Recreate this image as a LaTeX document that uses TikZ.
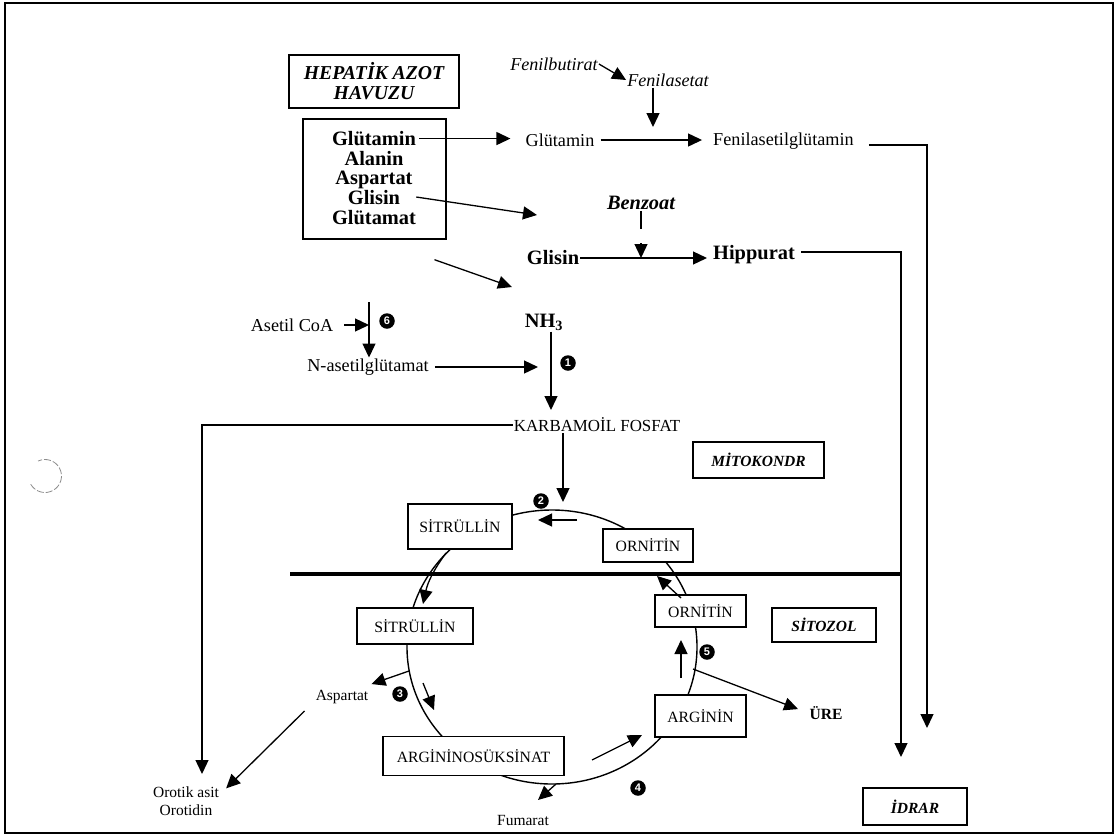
\documentclass[tikz,border=0pt]{standalone}
\usepackage{fontspec}
\setmainfont{Liberation Serif}
\newfontfamily\numfont{Liberation Sans}
\usetikzlibrary{arrows.meta,positioning}

\begin{document}
\begin{tikzpicture}[x=1pt,y=-1pt,
  conn/.style ={line width=1.3pt, -{Triangle[length=14pt,width=13pt]}},
  link/.style ={line width=1.3pt},
  cycl/.style ={line width=1.4pt},
  memb/.style ={line width=4pt},
  box/.style  ={draw, fill=white, line width=1.4pt, inner sep=0pt},
  rgl/.style  ={font=\fontsize{18.2}{20}\selectfont, inner sep=1pt},
  sml/.style  ={font=\fontsize{15.5}{18}\selectfont, inner sep=1pt},
  bld/.style  ={font=\bfseries\fontsize{20.4}{20}\selectfont, inner sep=1pt},
  pline/.style={font=\bfseries\fontsize{20.4}{20}\selectfont, inner sep=0pt, anchor=base},
  itl/.style  ={font=\itshape\fontsize{18.1}{20}\selectfont, inner sep=1pt},
  bxi/.style  ={font=\bfseries\itshape\fontsize{15.5}{18}\selectfont},
  capt/.style ={font=\fontsize{15.7}{18}\selectfont},
  numdot/.style ={circle, fill=black, text=white, inner sep=0pt, minimum size=15.5pt,
                  font=\numfont\bfseries\fontsize{11}{11}\selectfont},
]
\useasboundingbox (0,0) rectangle (1118,836);
% page frame and punch-hole trace
\draw[line width=2pt] (5,3) rectangle (1113,833);
\draw[black!45, line width=0.8pt, dash pattern=on 7pt off 2pt] (45,476) ++(-150:16.5pt) arc[start angle=-150, end angle=115, radius=16.5pt];
% hepatic nitrogen pool
\node[draw, line width=1.4pt, minimum width=170pt, minimum height=53pt, align=center,
      font=\bfseries\itshape\fontsize{19.7}{20}\selectfont] (hep) at (374,81.5) {HEPATİK AZOT\\HAVUZU};
\node[draw, line width=1.4pt, minimum width=143pt, minimum height=120pt, inner sep=0pt] (pool) at (374.5,179) {};
\node[pline] (pGlu) at (374,145.5) {Glütamin};
\node[pline] (pAla) at (374,165) {Alanin};
\node[pline] (pAsp) at (374,184.5) {Aspartat};
\node[pline] (pGli) at (374,204) {Glisin};
\node[pline] (pGlm) at (374,224) {Glütamat};
% phenylacetate / benzoate routes
\node[itl] (fbut) at (554,64) {Fenilbutirat};
\node[itl] (fase) at (668,80) {Fenilasetat};
\node[rgl] (glu)  at (560,140) {Glütamin};
\node[rgl] (fagl) at (783.5,141) {Fenilasetilglütamin};
\node[font=\bfseries\itshape\fontsize{20.4}{20}\selectfont, inner sep=1pt] (benz) at (641,203) {Benzoat};
\node[bld] (gli) at (553,258) {Glisin};
\node[bld] (hip) at (754,255) {Hippurat};
\coordinate (fdn)   at (653,127);
\coordinate (fEnd)  at (927,728);
\coordinate (hEnd)  at (901,757);
\coordinate (bzTip) at (641,258);
\coordinate (gliIn) at (537,215);
\coordinate (nh3In) at (512,287);
\draw[conn] (fbut.east) -- (fase.west);
\draw[conn] (fase.south -| fdn) -- (fdn);
\draw[conn, shorten <=3pt, shorten >=14pt] (pGlu.east) -- (pGlu.east -| glu.west);
\draw[conn, shorten <=5pt, shorten >=10pt] (glu.east) -- (glu.east -| fagl.west);
\draw[conn] (fagl.east) ++(14,4) -| (fEnd);
\draw[conn] (pGli.east) ++(16,0) -- (gliIn);
\draw[conn] (pool.south) ++(60,20) -- (nh3In);
\draw[link] (benz.south -| bzTip) -- ++(0,18);
\draw[conn] (bzTip) ++(0,-15) -- (bzTip);
\draw[conn, shorten >=5pt] (gli.east) -- (gli.east -| hip.west);
\draw[conn] (hip.east) ++(5,-3) -| (hEnd);
\node[box, bxi, minimum width=104pt, minimum height=37pt] (idrar) at (915,806.5) {İDRAR};
% NH3 and carbamoyl phosphate
\node[bld] (nh3)  at (544,322) {NH\textsubscript{3}};
\node[rgl] (acoa) at (292,325) {Asetil CoA};
\node[rgl] (nag)  at (368,367) {N-asetilglütamat};
\node[font=\fontsize{16.9}{18}\selectfont, inner sep=1pt] (karb) at (597,425) {KARBAMOİL FOSFAT};
\node[numdot] (n6) at (387,321) {6};
\node[numdot] (n1) at (568,363) {1};
\coordinate (acTip) at (369,325);
\coordinate (v6)    at (369,302);
\coordinate (n1Tip) at (538,367);
\coordinate (kIn)   at (551,410);
\coordinate (oTip)  at (202,774);
\coordinate (c2In)  at (563,502);
\draw[conn, shorten <=10pt] (acoa.east) -- (acTip);
\draw[conn] (v6) -- (v6 |- nag.north);
\draw[conn, shorten <=5pt] (nag.east) -- (n1Tip);
\draw[conn] (nh3.south -| kIn) -- (kIn);
\draw[conn] (karb.west) -| (oTip);
\draw[conn] (karb.south -| c2In) -- (c2In);
\node[box, bxi, minimum width=131pt, minimum height=36pt] (mito) at (758.5,460) {MİTOKONDR};
\node[box, bxi, minimum width=104pt, minimum height=34pt] (sito) at (824,625) {SİTOZOL};
% urea cycle: ring behind the boxes
\def\cx{552}\def\cy{647}
\draw[cycl] (\cx,\cy) ellipse [x radius=145pt, y radius=137pt];
\draw[memb] (290,574) -- (901,574);
\node[box, capt, minimum width=104pt, minimum height=45pt] (sitU) at (460,526.5) {SİTRÜLLİN};
\node[box, capt, minimum width=90pt,  minimum height=33pt] (ornU) at (648,545.5) {ORNİTİN};
\node[box, capt, minimum width=116pt, minimum height=36pt] (sitL) at (415,626)   {SİTRÜLLİN};
\node[box, capt, minimum width=91pt,  minimum height=32pt] (ornL) at (700.5,611) {ORNİTİN};
\node[box, capt, minimum width=91pt,  minimum height=42pt] (argn) at (700.5,716) {ARGİNİN};
\node[box, capt, minimum width=181pt, minimum height=39pt] (asuk) at (473.5,756) {ARGİNİNOSÜKSİNAT};
\node[numdot] (n2) at (541,501) {2};
\node[numdot] (n3) at (400,694) {3};
\node[numdot] (n4) at (638,788) {4};
\node[numdot] (n5) at (707,652) {5};
\node[sml] (asp)  at (342,697) {Aspartat};
\node[sml, align=center] (orot) at (186,801) {Orotik asit\\Orotidin};
\node[sml] (fum)  at (523,820) {Fumarat};
\node[font=\bfseries\fontsize{15.6}{18}\selectfont, inner sep=1pt] (ure) at (826,713) {ÜRE};
% step arrows along the ring
\coordinate (a2s) at (577,520); \coordinate (a2e) at (538,520);
\coordinate (sTr1) at (446,553); \coordinate (sTr2) at (423,604);
\coordinate (a3s) at (423,683); \coordinate (a3e) at (434,710);
\coordinate (aspOut) at (409,671);
\coordinate (a4s) at (592,760); \coordinate (a4e) at (642,735);
\coordinate (fOut) at (556,784); \coordinate (fTip) at (538,800);
\coordinate (a5s) at (681,678); \coordinate (a5e) at (681,640);
\coordinate (ureOut) at (693,669);
\coordinate (oTr1) at (681,598); \coordinate (oTr2) at (657,576);
\draw[conn] (a2s) -- (a2e);
\draw[conn] (sTr1) to[bend right=12] (sTr2);
\draw[conn] (a3s) -- (a3e);
\draw[conn] (aspOut) -- ([shift={(2,-5)}]asp.north east);
\draw[conn] ([shift={(-10,6)}]asp.south west) -- ([shift={(6,3)}]orot.north east);
\draw[conn] (a4s) -- (a4e);
\draw[conn] (fOut) -- (fTip);
\draw[conn] (a5s) -- (a5e);
\draw[conn, shorten >=11pt] (ureOut) -- (ure.west);
\draw[conn] (oTr1) -- (oTr2);
\end{tikzpicture}
\end{document}
